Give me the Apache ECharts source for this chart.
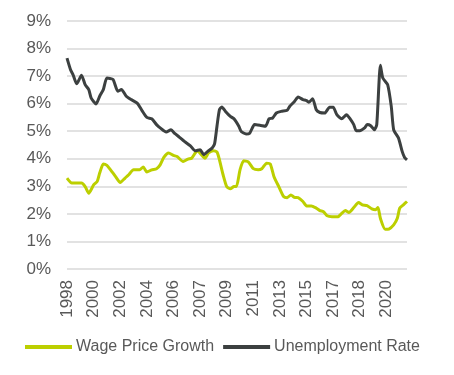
<!DOCTYPE html>
<html>
<head>
<meta charset="utf-8">
<script src="https://cdn.jsdelivr.net/npm/echarts@6/dist/echarts.min.js"></script>
<style>
  html, body { margin: 0; padding: 0; background: #fff; }
  #chart { width: 454px; height: 375px; }
</style>
</head>
<body>
<div id="chart"></div>
<script>
// series names
const seriesNames = ['Wage Price Growth', 'Unemployment Rate'];

// first month on the axis, ticks every 22 months
const startYear = 1998, startMonth = 9;
const lastMonthIndex = 281;
const tickMonths = 22;

// wage price growth, % y/y
const wageDates = ['1998-09','1999-01','1999-05','1999-09','1999-12','2000-03','2000-07','2000-10','2000-12','2001-03',
  '2001-06','2001-09','2002-01','2002-05','2002-09','2002-12','2003-04','2003-09','2003-12','2004-03',
  '2004-07','2004-11','2005-02','2005-05','2005-09','2006-01','2006-04','2006-09','2007-01','2007-04',
  '2007-07','2007-09','2007-12','2008-03','2008-06','2008-10','2009-01','2009-03','2009-06','2009-09',
  '2009-12','2010-03','2010-05','2010-08','2010-11','2011-03','2011-07','2011-11','2012-02','2012-06',
  '2012-09','2012-12','2013-04','2013-08','2013-11','2014-02','2014-05','2014-08','2014-12','2015-03',
  '2015-07','2015-11','2016-02','2016-05','2016-08','2016-12','2017-05','2017-08','2017-11','2018-02',
  '2018-06','2018-10','2019-01','2019-05','2019-09','2019-12','2020-02','2020-04','2020-08','2020-11',
  '2021-03','2021-06','2021-08','2021-11','2022-02'];
const wageValues = [3.30,3.12,3.12,3.12,2.99,2.75,3.05,3.18,3.48,3.81,
  3.76,3.60,3.36,3.14,3.30,3.42,3.60,3.60,3.70,3.52,
  3.60,3.64,3.78,4.05,4.21,4.12,4.08,3.90,3.99,4.02,
  4.21,4.29,4.15,4.02,4.21,4.29,4.24,3.96,3.42,2.99,
  2.91,2.99,2.99,3.60,3.93,3.88,3.64,3.60,3.64,3.84,
  3.81,3.36,2.99,2.63,2.59,2.69,2.60,2.59,2.45,2.29,
  2.29,2.21,2.12,2.08,1.93,1.90,1.90,2.02,2.12,2.05,
  2.23,2.41,2.33,2.30,2.18,2.15,2.23,1.84,1.44,1.45,
  1.60,1.84,2.21,2.33,2.45];

// unemployment rate, %
const unempDates = ['1998-09','1998-12','1999-02','1999-05','1999-09','1999-12','2000-03','2000-05','2000-09','2000-12',
  '2001-03','2001-06','2001-11','2002-03','2002-06','2002-10','2003-02','2003-07','2003-11','2004-03',
  '2004-07','2004-11','2005-02','2005-07','2005-11','2006-02','2006-06','2006-10','2007-03','2007-07',
  '2007-11','2008-02','2008-06','2008-09','2008-11','2009-01','2009-03','2009-05','2009-08','2009-12',
  '2010-03','2010-07','2010-09','2011-01','2011-04','2011-08','2012-01','2012-05','2012-08','2012-11',
  '2013-02','2013-06','2013-11','2014-01','2014-05','2014-08','2014-12','2015-03','2015-05','2015-08',
  '2015-11','2016-02','2016-06','2016-10','2017-01','2017-04','2017-08','2017-12','2018-03','2018-06',
  '2018-08','2018-11','2019-03','2019-05','2019-08','2019-11','2020-01','2020-04','2020-06','2020-10',
  '2021-01','2021-03','2021-07','2021-10','2021-12','2022-02'];
const unempValues = [7.65,7.22,7.05,6.72,7.03,6.69,6.51,6.20,5.99,6.27,
  6.51,6.93,6.88,6.45,6.51,6.27,6.15,6.02,5.75,5.50,
  5.45,5.24,5.12,4.97,5.05,4.92,4.78,4.63,4.47,4.29,
  4.33,4.15,4.29,4.39,4.55,5.20,5.78,5.88,5.72,5.54,
  5.45,5.18,4.99,4.90,4.93,5.24,5.21,5.18,5.45,5.48,
  5.66,5.72,5.76,5.90,6.08,6.24,6.15,6.11,6.05,6.18,
  5.78,5.68,5.66,5.87,5.87,5.60,5.45,5.60,5.45,5.24,
  5.02,5.02,5.12,5.24,5.20,5.05,5.24,7.39,6.93,6.69,
  5.90,5.05,4.75,4.27,4.05,3.96];

function monthIndex(d) {
  const p = d.split('-');
  return (+p[0] - startYear) * 12 + (+p[1] - startMonth);
}
function pairs(dates, values) {
  return dates.map((d, i) => [monthIndex(d), values[i]]);
}

const textColor = '#595959';
const font = '"Liberation Sans", Arial, sans-serif';

const chart = echarts.init(document.getElementById('chart'));
chart.setOption({
  animation: false,
  textStyle: { fontFamily: font },
  grid: { left: 67, right: 47, top: 21, bottom: 106 },
  legend: {
    bottom: 15,
    left: 20,
    icon: 'rect',
    itemWidth: 47,
    itemHeight: 4,
    itemGap: 9,
    textStyle: { color: textColor, fontSize: 16, fontFamily: font, padding: [0, 0, 0, -1] },
    data: seriesNames
  },
  xAxis: {
    type: 'value',
    min: 0,
    max: lastMonthIndex,
    interval: tickMonths,
    axisLine: { show: false },
    axisTick: { show: false },
    splitLine: { show: false },
    axisLabel: {
      rotate: 90,
      margin: 11,
      color: textColor,
      fontSize: 17,
      fontFamily: font,
      showMaxLabel: false,
      formatter: function (v) {
        return String(Math.floor((startYear * 12 + startMonth - 1 + v) / 12));
      }
    }
  },
  yAxis: {
    type: 'value',
    min: 0,
    max: 9,
    interval: 1,
    axisLine: { show: false },
    axisTick: { show: false },
    splitLine: { lineStyle: { color: '#d9d9d9', width: 1.5 } },
    axisLabel: {
      margin: 16,
      color: textColor,
      fontSize: 17,
      fontFamily: font,
      formatter: '{value}%'
    }
  },
  series: [
    {
      name: seriesNames[0],
      type: 'line',
      data: pairs(wageDates, wageValues),
      showSymbol: false,
      smooth: 0.2,
      lineStyle: { width: 3, color: '#bccf00' },
      itemStyle: { color: '#bccf00' }
    },
    {
      name: seriesNames[1],
      type: 'line',
      data: pairs(unempDates, unempValues),
      showSymbol: false,
      smooth: 0.2,
      lineStyle: { width: 3, color: '#3c4040' },
      itemStyle: { color: '#3c4040' }
    }
  ]
});
</script>
</body>
</html>
